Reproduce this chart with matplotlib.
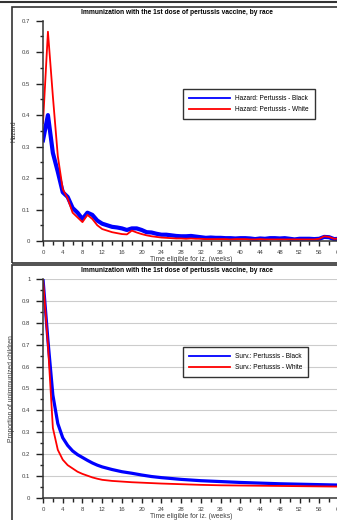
import matplotlib
matplotlib.use("Agg")
import matplotlib.pyplot as plt
from matplotlib.patches import Rectangle
from matplotlib.lines import Line2D
import numpy as np

plt.rcParams['font.family'] = ['Liberation Sans', 'DejaVu Sans']

title = 'Immunization with the 1st dose of pertussis vaccine, by race'
xlabel = 'Time eligible for iz. (weeks)'

# hazard, one value per week (0..60)
haz_black = [0.32, 0.40, 0.28, 0.22, 0.155, 0.14, 0.105, 0.09, 0.07, 0.09,
             0.083, 0.065, 0.055, 0.05, 0.045, 0.043, 0.04, 0.035, 0.04, 0.04,
             0.035, 0.028, 0.027, 0.023, 0.02, 0.02, 0.018, 0.016, 0.015, 0.015,
             0.016, 0.014, 0.012, 0.01, 0.011, 0.01, 0.01, 0.009, 0.009, 0.008,
             0.009, 0.009, 0.008, 0.006, 0.008, 0.007, 0.009, 0.009, 0.008, 0.009,
             0.007, 0.005, 0.007, 0.007, 0.007, 0.006, 0.007, 0.013, 0.012, 0.006,
             0.007]
haz_white = [0.375, 0.665, 0.46, 0.27, 0.165, 0.135, 0.09, 0.075, 0.06, 0.083,
             0.07, 0.05, 0.038, 0.033, 0.028, 0.025, 0.022, 0.021, 0.033, 0.027,
             0.022, 0.018, 0.015, 0.013, 0.011, 0.01, 0.009, 0.008, 0.008, 0.007,
             0.008, 0.007, 0.007, 0.006, 0.006, 0.006, 0.006, 0.006, 0.005, 0.006,
             0.006, 0.006, 0.005, 0.005, 0.006, 0.005, 0.005, 0.005, 0.005, 0.005,
             0.005, 0.005, 0.005, 0.005, 0.005, 0.005, 0.007, 0.015, 0.013, 0.007,
             0.008]

# survival
surv_black_wk = [0, 1, 2, 3, 4, 5, 6, 7, 8, 9, 10, 11, 12, 14, 16, 18, 20, 22, 24,
                 26, 28, 30, 32, 36, 40, 44, 48, 52, 56, 60]
surv_black = [1.0, 0.72, 0.47, 0.34, 0.275, 0.24, 0.215, 0.198, 0.185, 0.172,
              0.16, 0.15, 0.142, 0.13, 0.12, 0.113, 0.105, 0.098, 0.093, 0.089,
              0.085, 0.082, 0.079, 0.075, 0.071, 0.068, 0.065, 0.063, 0.061, 0.059]
surv_white_wk = [0, 1, 2, 3, 4, 5, 6, 7, 8, 9, 10, 11, 12, 14, 16, 18, 20, 24, 28,
                 32, 36, 40, 44, 48, 52, 56, 60]
surv_white = [1.0, 0.70, 0.32, 0.22, 0.175, 0.15, 0.135, 0.12, 0.11, 0.102,
              0.094, 0.088, 0.083, 0.078, 0.075, 0.072, 0.07, 0.066, 0.063,
              0.06, 0.058, 0.057, 0.056, 0.055, 0.054, 0.053, 0.052]

W, H = 337, 520
fig = plt.figure(figsize=(W / 100, H / 100), dpi=100)


def fx(px):
    return px / W


def fy(py):
    return 1 - py / H


# panel frames
fig.add_artist(Line2D([0, 1], [fy(1.5), fy(1.5)], color='#333333', lw=1.5))
fig.add_artist(Rectangle((fx(12), fy(263)), 1, fy(7) - fy(263), fill=False,
                         ec='#333333', lw=1.2))
fig.add_artist(Rectangle((fx(12), fy(530)), 1, fy(265) - fy(530), fill=False,
                         ec='#333333', lw=1.2))


def style(ax, ymax, ystep):
    for s in ['top', 'right']:
        ax.spines[s].set_visible(False)
    for s in ['left', 'bottom']:
        ax.spines[s].set_color('#333333')
        ax.spines[s].set_linewidth(1.1)
    ax.set_xlim(0, 60)
    ax.set_ylim(0, ymax)
    ax.set_xticks(np.arange(0, 61, 4))
    ax.set_xticks(np.arange(0, 61, 2), minor=True)
    ax.set_yticks(np.arange(0, ymax + 1e-9, ystep))
    ax.set_yticks(np.arange(0, ymax + 1e-9, ystep / 2), minor=True)
    ax.set_yticklabels([f'{v:g}' for v in np.arange(0, ymax + 1e-9, ystep)])
    ax.tick_params(axis='both', which='both', direction='out', color='#222222',
                   width=1, labelsize=4.3, labelcolor='#404040')
    ax.tick_params(axis='y', which='major', length=5, pad=4)
    ax.tick_params(axis='y', which='minor', length=2.5)
    ax.tick_params(axis='x', which='major', length=3.5, pad=3)
    ax.tick_params(axis='x', which='minor', length=3)
    ax.set_xlabel(xlabel, fontsize=4.9, color='#404040', labelpad=0.5)


# top panel: hazard
ax1 = fig.add_axes([fx(43), fy(241), fx(296), fy(20.7) - fy(241)])
ax1.plot(range(len(haz_black)), haz_black, color='blue', lw=3,
         label='Hazard: Pertussis - Black', solid_joinstyle='round')
ax1.plot(range(len(haz_white)), haz_white, color='red', lw=1.3,
         label='Hazard: Pertussis - White')
style(ax1, 0.7, 0.1)
ax1.set_ylabel('Hazard', fontsize=4.9, color='#404040', labelpad=3)
leg1 = ax1.legend(loc='upper left', bbox_to_anchor=(fx(183), fy(89)),
                  bbox_transform=fig.transFigure, fontsize=4.7, frameon=True,
                  fancybox=False, edgecolor='black', borderaxespad=0,
                  handlelength=6.3, borderpad=0.9, labelspacing=0.7)
leg1.get_frame().set_linewidth(1)
for ln in leg1.get_lines():
    ln.set_linewidth(1.3)
fig.text(fx(177), fy(13), title, ha='center', va='center', fontsize=4.8,
         fontweight='bold')

# bottom panel: survival
ax2 = fig.add_axes([fx(43), fy(498), fx(296), fy(279) - fy(498)])
ax2.grid(axis='y', which='major', color='#cccccc', lw=0.8)
ax2.set_axisbelow(True)
ax2.plot(surv_black_wk, surv_black, color='blue', lw=2.3,
         label='Surv.: Pertussis - Black')
ax2.plot(surv_white_wk, surv_white, color='red', lw=1.3,
         label='Surv.: Pertussis - White')
style(ax2, 1.0, 0.1)
ax2.set_ylabel('Proportion of unimmunized children', fontsize=4.9,
               color='#404040', labelpad=5)
leg2 = ax2.legend(loc='upper left', bbox_to_anchor=(fx(183), fy(347)),
                  bbox_transform=fig.transFigure, fontsize=4.7, frameon=True,
                  fancybox=False, edgecolor='black', borderaxespad=0,
                  handlelength=6.3, borderpad=0.9, labelspacing=0.7)
leg2.get_frame().set_linewidth(1)
for ln in leg2.get_lines():
    ln.set_linewidth(1.3)
fig.text(fx(177), fy(271), title, ha='center', va='center', fontsize=4.8,
         fontweight='bold')

fig.savefig('out.png', dpi=100)
